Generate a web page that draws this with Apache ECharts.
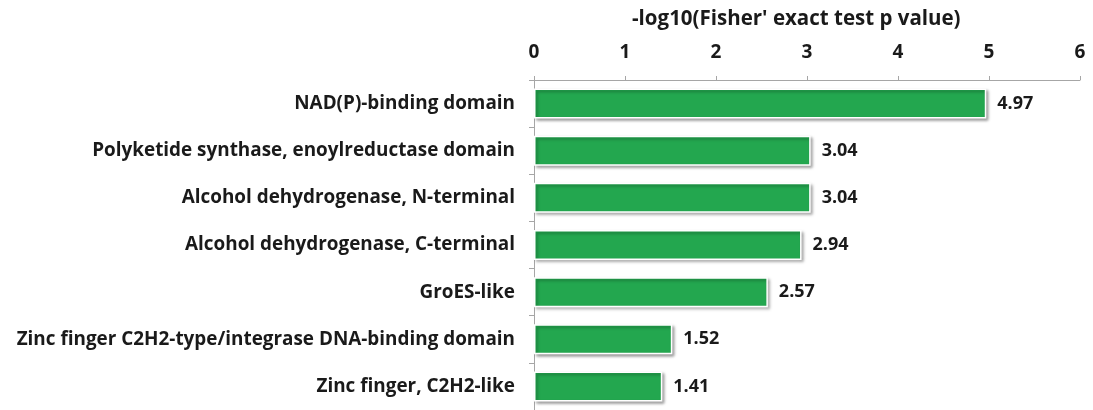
<!DOCTYPE html>
<html><head><meta charset="utf-8">
<script src="https://cdn.jsdelivr.net/npm/echarts@6/dist/echarts.min.js"></script>
<style>html,body{margin:0;padding:0;background:#fff}#c{width:1093px;height:410px}</style>
</head><body><div id="c"></div>
<script>
const categories = ["NAD(P)-binding domain","Polyketide synthase, enoylreductase domain","Alcohol dehydrogenase, N-terminal","Alcohol dehydrogenase, C-terminal","GroES-like","Zinc finger C2H2-type/integrase DNA-binding domain","Zinc finger, C2H2-like"];
const values = [4.97, 3.04, 3.04, 2.94, 2.57, 1.52, 1.41];
const xTicks = [0,1,2,3,4,5,6];
const axisTitle = "-log10(Fisher' exact test p value)";
const FONT = 'Open Sans';
const chart = echarts.init(document.getElementById('c'), null, {renderer:'canvas'});
chart.setOption({
  animation:false,
  title:{text:axisTitle,left:627,top:4,textStyle:{fontFamily:FONT,fontWeight:'bold',fontSize:20.5,color:'#1a1a1a'}},
  grid:{left:534,top:80,width:546,height:332.5,containLabel:false},
  xAxis:{type:'value',position:'top',min:xTicks[0],max:xTicks[xTicks.length-1],interval:1,
    axisLine:{show:true,lineStyle:{color:'#a6a6a6',width:1}},
    axisTick:{show:true,length:4,lineStyle:{color:'#a6a6a6'}},
    splitLine:{show:false},
    axisLabel:{margin:18,fontFamily:FONT,fontWeight:'bold',fontSize:19,color:'#1a1a1a'}},
  yAxis:{type:'category',data:categories,inverse:true,
    axisLine:{show:true,lineStyle:{color:'#a6a6a6',width:1}},
    axisTick:{show:true,length:5,lineStyle:{color:'#a6a6a6'}},
    axisLabel:{margin:19,fontFamily:FONT,fontWeight:'bold',fontSize:18.9,color:'#1a1a1a'}},
  series:[{type:'bar',data:values,barWidth:30,
    itemStyle:{color:'#23a74f',borderColor:'#ffffff',borderWidth:1.5,shadowColor:'rgba(0,0,0,0.35)',shadowBlur:3,shadowOffsetX:2,shadowOffsetY:2},
    label:{show:true,position:'right',distance:11,formatter:p=>p.value.toFixed(2),fontFamily:FONT,fontWeight:'bold',fontSize:18,color:'#1a1a1a'}}]
});
</script></body></html>
